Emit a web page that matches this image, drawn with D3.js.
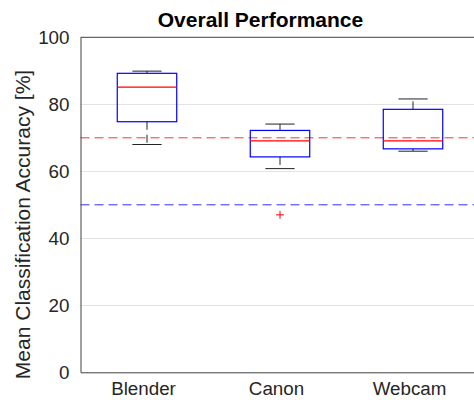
<!DOCTYPE html>
<html><head><meta charset="utf-8">
<script src="https://cdn.jsdelivr.net/npm/d3@7"></script>
<style>body{margin:0;background:#fff;}svg{display:block;font-family:"Liberation Sans",Arial,sans-serif;}</style>
</head><body>
<script>
const categories = ["Blender", "Canon", "Webcam"];
const lowerWhisker = [68.0, 60.8, 66.0];
const q1 = [74.8, 64.3, 66.7];
const median = [85.1, 69.1, 69.1];
const q3 = [89.25, 72.2, 78.5];
const upperWhisker = [89.9, 74.1, 81.6];
const outliers = [{cat: 1, value: 47.0}];
const refLines = [{value: 70, color: "#ff3030"}, {value: 50, color: "#3030ff"}];
const yTicks = [0, 20, 40, 60, 80, 100];
const gridTicks = [20, 40, 60, 80];
const title = "Overall Performance";
const yLabel = "Mean Classification Accuracy [%]";

const W = 474, H = 400;
const svg = d3.select("body").append("svg").attr("width", W).attr("height", H);
const x = d3.scaleLinear().domain([0.5, 3.5]).range([80.5, 479.5]);
const y = d3.scaleLinear().domain([0, 100]).range([372.3, 37.3]);
const step = x(2) - x(1);
const boxW = 0.447 * step, capW = 0.22 * step;

// grid
svg.append("g").selectAll("line").data(gridTicks).join("line")
  .attr("x1", x(0.5)).attr("x2", x(3.5))
  .attr("y1", d => Math.round(y(d)) + 0.5).attr("y2", d => Math.round(y(d)) + 0.5)
  .attr("stroke", "#e3e3e3").attr("stroke-width", 1);

// reference lines
svg.append("g").selectAll("line").data(refLines).join("line")
  .attr("x1", x(0.5)).attr("x2", x(3.5))
  .attr("y1", d => y(d.value)).attr("y2", d => y(d.value))
  .attr("stroke", d => d.color).attr("stroke-width", 1).attr("stroke-dasharray", "9,5");

// axes
const yAxis = d3.axisLeft(y).tickValues(yTicks).tickSize(0).tickPadding(11);
const gy = svg.append("g").attr("transform", `translate(${x(0.5)},0)`).call(yAxis);
gy.select(".domain").attr("stroke", "#404040");
gy.selectAll("text").attr("font-size", "18.8px").attr("fill", "#262626")
  .attr("font-family", '"Liberation Sans",Arial,sans-serif');

const xAxis = d3.axisBottom(x).tickValues([1, 2, 3]).tickFormat((d, i) => categories[i]).tickSize(0).tickPadding(9);
const gx = svg.append("g").attr("transform", `translate(0,${y(0)})`).call(xAxis);
gx.select(".domain").attr("stroke", "#404040");
gx.selectAll("text").attr("font-size", "18.8px").attr("fill", "#262626").attr("dx", "-4")
  .attr("font-family", '"Liberation Sans",Arial,sans-serif');

// top border
svg.append("line").attr("x1", x(0.5)).attr("x2", x(3.5)).attr("y1", y(100)).attr("y2", y(100))
  .attr("stroke", "#404040").attr("stroke-width", 1);

// boxes
const idx = categories.map((c, i) => i);
const g = svg.append("g");
// whiskers
g.selectAll(".wu").data(idx).join("line")
  .attr("x1", i => x(i + 1)).attr("x2", i => x(i + 1))
  .attr("y1", i => y(q3[i])).attr("y2", i => y(upperWhisker[i]))
  .attr("stroke", "#222").attr("stroke-dasharray", "8,5");
g.selectAll(".wl").data(idx).join("line")
  .attr("x1", i => x(i + 1)).attr("x2", i => x(i + 1))
  .attr("y1", i => y(q1[i])).attr("y2", i => y(lowerWhisker[i]))
  .attr("stroke", "#222").attr("stroke-dasharray", "8,5");
// caps
g.selectAll(".cu").data(idx).join("line")
  .attr("x1", i => x(i + 1) - capW / 2).attr("x2", i => x(i + 1) + capW / 2)
  .attr("y1", i => y(upperWhisker[i])).attr("y2", i => y(upperWhisker[i]))
  .attr("stroke", "#222");
g.selectAll(".cl").data(idx).join("line")
  .attr("x1", i => x(i + 1) - capW / 2).attr("x2", i => x(i + 1) + capW / 2)
  .attr("y1", i => y(lowerWhisker[i])).attr("y2", i => y(lowerWhisker[i]))
  .attr("stroke", "#222");
// box
g.selectAll("rect").data(idx).join("rect")
  .attr("x", i => x(i + 1) - boxW / 2).attr("width", boxW)
  .attr("y", i => y(q3[i])).attr("height", i => y(q1[i]) - y(q3[i]))
  .attr("fill", "none").attr("stroke", "#0000ff").attr("stroke-width", 1.2);
// median
g.selectAll(".med").data(idx).join("line")
  .attr("x1", i => x(i + 1) - boxW / 2).attr("x2", i => x(i + 1) + boxW / 2)
  .attr("y1", i => y(median[i])).attr("y2", i => y(median[i]))
  .attr("stroke", "#ff0000").attr("stroke-width", 1.2);
// outliers
const og = g.selectAll(".out").data(outliers).join("g")
  .attr("transform", d => `translate(${x(d.cat + 1)},${y(d.value)})`);
og.append("line").attr("x1", -4).attr("x2", 4).attr("stroke", "#ff0000");
og.append("line").attr("y1", -4).attr("y2", 4).attr("stroke", "#ff0000");

// title
svg.append("text").attr("x", 260.5).attr("y", 27.3).attr("text-anchor", "middle")
  .attr("font-size", "21px").attr("font-weight", "bold").attr("fill", "#000").text(title);
// y label
svg.append("text").attr("transform", "translate(30,224.5) rotate(-90)")
  .attr("text-anchor", "middle").attr("font-size", "21px").attr("fill", "#262626").text(yLabel);
</script>
</body></html>
